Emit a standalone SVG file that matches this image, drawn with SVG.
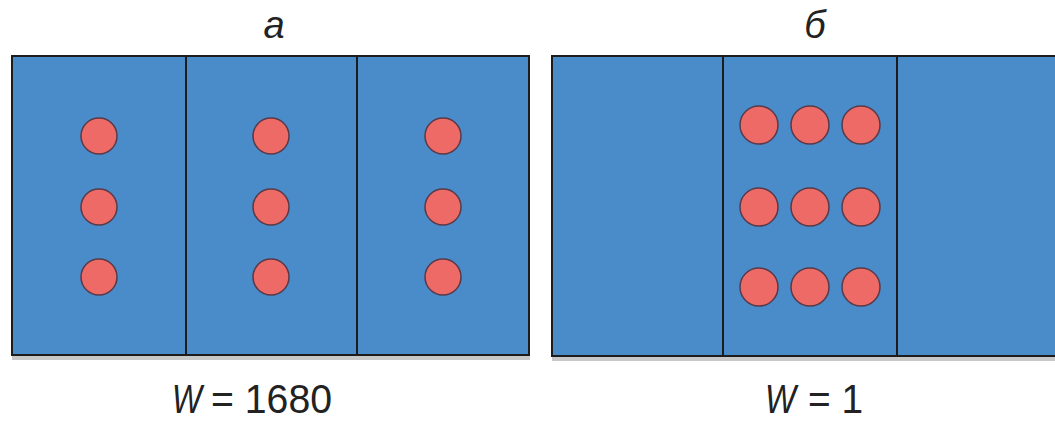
<svg xmlns="http://www.w3.org/2000/svg" width="1055" height="421" viewBox="0 0 1055 421">
<style>
.cell{fill:#4a8bc9;stroke:#1c1c1c;stroke-width:2}
.dot{fill:#ee6a66;stroke:#5a3a48;stroke-width:1.5}
.shadow{fill:#c8c8c8}
.lbl{font-family:"Liberation Sans",Arial,sans-serif;fill:#222}
.it{font-style:italic}
.eq{font-size:40px}
</style>
<rect width="1055" height="421" fill="#fff"/>
<g id="labels">
<text class="lbl it" x="274" y="38" font-size="38" text-anchor="middle">a</text>
<text class="lbl it" x="815" y="38" font-size="38" text-anchor="middle">б</text>
<text class="lbl it eq" x="172" y="413" textLength="30" lengthAdjust="spacingAndGlyphs">W</text>
<text class="lbl eq" x="211" y="413" textLength="121" lengthAdjust="spacingAndGlyphs">= 1680</text>
<text class="lbl it eq" x="765" y="413" textLength="31" lengthAdjust="spacingAndGlyphs">W</text>
<text class="lbl eq" x="808" y="413" textLength="55" lengthAdjust="spacingAndGlyphs">= 1</text>
</g>
<g id="panel-a">
<rect class="shadow" x="12" y="356" width="518" height="4"/>
<rect class="cell" x="12" y="56" width="174" height="299"/>
<rect class="cell" x="186" y="56" width="171" height="299"/>
<rect class="cell" x="357" y="56" width="172" height="299"/>
<circle class="dot" cx="99" cy="136" r="18"/>
<circle class="dot" cx="99" cy="207" r="18"/>
<circle class="dot" cx="99" cy="277" r="18"/>
<circle class="dot" cx="271" cy="136" r="18"/>
<circle class="dot" cx="271" cy="207" r="18"/>
<circle class="dot" cx="271" cy="277" r="18"/>
<circle class="dot" cx="443" cy="136" r="18"/>
<circle class="dot" cx="443" cy="207" r="18"/>
<circle class="dot" cx="443" cy="277" r="18"/>
</g>
<g id="panel-b">
<rect class="shadow" x="552" y="357" width="503" height="4"/>
<rect class="cell" x="552" y="56" width="171" height="300"/>
<rect class="cell" x="723" y="56" width="174" height="300"/>
<rect class="cell" x="897" y="56" width="170" height="300"/>
<circle class="dot" cx="759" cy="125" r="19"/>
<circle class="dot" cx="810" cy="125" r="19"/>
<circle class="dot" cx="861" cy="125" r="19"/>
<circle class="dot" cx="759" cy="207" r="19"/>
<circle class="dot" cx="810" cy="207" r="19"/>
<circle class="dot" cx="861" cy="207" r="19"/>
<circle class="dot" cx="759" cy="287" r="19"/>
<circle class="dot" cx="810" cy="287" r="19"/>
<circle class="dot" cx="861" cy="287" r="19"/>
</g>
<g id="connectors"/>
</svg>
